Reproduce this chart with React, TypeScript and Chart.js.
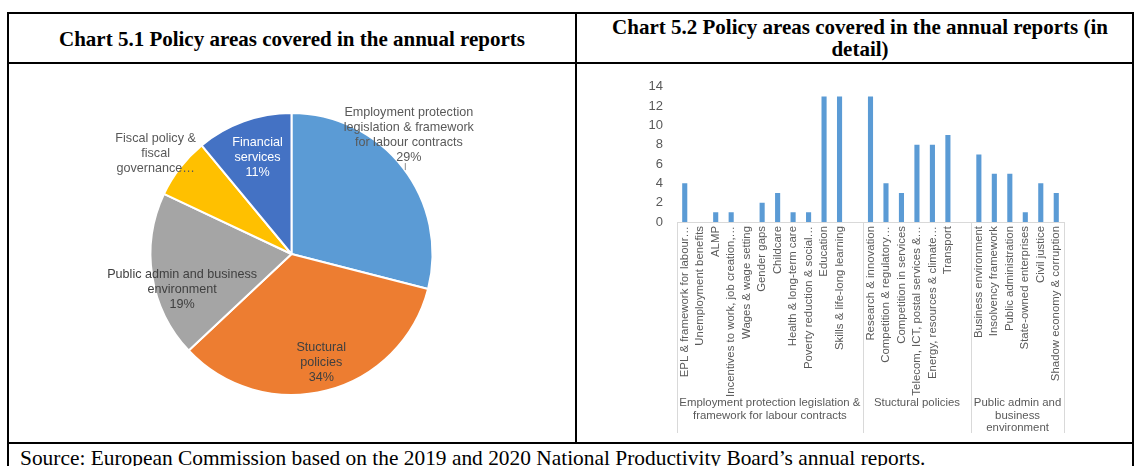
import React, { useEffect, useRef } from "react";
import { Chart, registerables } from "chart.js";

Chart.register(...registerables);

// ---------- Chart 5.1 data ----------
const pieCategories = [
  "Employment protection legislation & framework for labour contracts",
  "Stuctural policies",
  "Public admin and business environment",
  "Fiscal policy & fiscal governance",
  "Financial services",
];
const pieValues = [29, 34, 19, 7, 11];
const pieLabelNameLines = [
  ["Employment protection", "legislation & framework", "for labour contracts"],
  ["Stuctural", "policies"],
  ["Public admin and business", "environment"],
  ["Fiscal policy &", "fiscal", "governance…"],
  ["Financial", "services"],
];
const pieShowPct = [true, true, true, false, true];

// ---------- Chart 5.2 data ----------
const barCategories = [
  "EPL & framework for labour…",
  "Unemployment benefits",
  "ALMP",
  "Incentives to work, job creation,…",
  "Wages & wage setting",
  "Gender gaps",
  "Childcare",
  "Health & long-term care",
  "Poverty reduction & social…",
  "Education",
  "Skills & life-long learning",
  "",
  "Research & innovation",
  "Competition & regulatory…",
  "Competition in services",
  "Telecom, ICT, postal services &…",
  "Energy, resources & climate…",
  "Transport",
  "",
  "Business environment",
  "Insolvency framework",
  "Public administration",
  "State-owned enterprises",
  "Civil justice",
  "Shadow economy & corruption",
];
const barValues: (number | null)[] = [
  4, 0, 1, 1, 0, 2, 3, 1, 1, 13, 13, null,
  13, 4, 3, 8, 8, 9, null,
  7, 5, 5, 1, 4, 3,
];
const groupLabelLines = [
  ["Employment protection legislation &", "framework for labour contracts"],
  ["Stuctural policies"],
  ["Public admin and", "business", "environment"],
];
const groupSizes = [12, 7, 6];
const yTickMax = 14;
const yTickStep = 2;

// ---------- styles ----------
const pieColors = ["#5B9BD5", "#ED7D31", "#A5A5A5", "#FFC000", "#4472C4"];
const pieLabelColors = ["#595959", "#404040", "#404040", "#595959", "#FFFFFF"];
const pieLabelAngle = [43.9, 164.3, 253.3, 307.2, 341]; // degrees clockwise from top
const pieLabelDist = [1.2, 0.78, 0.81, 1.21, 0.74]; // fraction of radius
const pieLabelNudgeY = 2.5;
const textGray = "#595959";
const axisGray = "#D9D9D9";
const sansFont = "'Liberation Sans', Arial, sans-serif";
const serifFont = "'Liberation Serif', 'Times New Roman', serif";

const pieLabelPlugin = {
  id: "pieLabels",
  afterDatasetsDraw(chart: any) {
    const ctx = chart.ctx;
    const meta = chart.getDatasetMeta(0);
    ctx.save();
    ctx.font = `12.6px ${sansFont}`;
    ctx.textAlign = "center";
    ctx.textBaseline = "middle";
    meta.data.forEach((arc: any, i: number) => {
      const { x, y, outerRadius } = arc.getProps(["x", "y", "outerRadius"], true);
      const a = (pieLabelAngle[i] * Math.PI) / 180 - Math.PI / 2;
      const lx = x + Math.cos(a) * outerRadius * pieLabelDist[i];
      const ly = y + Math.sin(a) * outerRadius * pieLabelDist[i] + pieLabelNudgeY;
      const lines = [...pieLabelNameLines[i]];
      if (pieShowPct[i]) lines.push(`${pieValues[i]}%`);
      const lh = 15;
      const y0 = ly - ((lines.length - 1) * lh) / 2;
      ctx.fillStyle = pieLabelColors[i];
      lines.forEach((t, k) => ctx.fillText(t, lx, y0 + k * lh));
      if (pieLabelDist[i] > 1 && i === 0) {
        // leader line from label to the slice edge
        const sx = lx - 4;
        const top = y0 + (lines.length - 1) * lh + 6;
        const dx = sx - x;
        const edge = y - Math.sqrt(Math.max(outerRadius * outerRadius - dx * dx, 0));
        ctx.strokeStyle = "#8C8C8C";
        ctx.lineWidth = 1;
        ctx.beginPath();
        ctx.moveTo(sx + 0.5, top);
        ctx.lineTo(sx + 0.5, edge);
        ctx.stroke();
      }
    });
    ctx.restore();
  },
};

const groupAxisPlugin = {
  id: "groupAxis",
  afterDraw(chart: any) {
    const ctx = chart.ctx;
    const xs = chart.scales.x;
    const area = chart.chartArea;
    const n = barCategories.length;
    const cw = (xs.right - xs.left) / n;
    ctx.save();
    ctx.strokeStyle = axisGray;
    ctx.lineWidth = 1;
    let start = 0;
    const bounds: number[] = [xs.getPixelForValue(0) - cw / 2];
    groupSizes.forEach((s) => {
      start += s;
      bounds.push(xs.getPixelForValue(start - 1) + cw / 2);
    });
    bounds.forEach((bx) => {
      const px = Math.round(bx) + 0.5;
      ctx.beginPath();
      ctx.moveTo(px, area.bottom);
      ctx.lineTo(px, area.bottom + 211);
      ctx.stroke();
    });
    ctx.font = `11.4px ${sansFont}`;
    ctx.fillStyle = textGray;
    ctx.textAlign = "center";
    ctx.textBaseline = "middle";
    groupLabelLines.forEach((lines, g) => {
      const cx = (bounds[g] + bounds[g + 1]) / 2;
      lines.forEach((t, k) => ctx.fillText(t, cx, area.bottom + 181 + k * 12.5));
    });
    ctx.restore();
  },
};

export default function App() {
  const pieRef = useRef<HTMLCanvasElement>(null);
  const barRef = useRef<HTMLCanvasElement>(null);

  useEffect(() => {
    Chart.defaults.font.family = sansFont;
    const pie = new Chart(pieRef.current!, {
      type: "pie",
      data: {
        labels: pieCategories,
        datasets: [
          {
            data: pieValues,
            backgroundColor: pieColors,
            borderColor: "#FFFFFF",
            borderWidth: 2,
            radius: 141,
          } as any,
        ],
      },
      options: {
        responsive: false,
        animation: false,
        devicePixelRatio: 1,
        layout: { padding: { top: 48, bottom: 46, left: 0, right: 0 } },
        plugins: { legend: { display: false }, tooltip: { enabled: false } },
      },
      plugins: [pieLabelPlugin],
    });

    const bar = new Chart(barRef.current!, {
      type: "bar",
      data: {
        labels: barCategories,
        datasets: [
          {
            data: barValues,
            backgroundColor: "#5B9BD5",
            barPercentage: 0.33,
            categoryPercentage: 1,
          },
        ],
      },
      options: {
        responsive: false,
        animation: false,
        devicePixelRatio: 1,
        layout: { padding: { top: 18, right: 68, left: 0, bottom: 0 } },
        plugins: { legend: { display: false }, tooltip: { enabled: false } },
        scales: {
          x: {
            grid: { display: false, drawTicks: false },
            border: { display: true, color: axisGray },
            ticks: {
              autoSkip: false,
              maxRotation: 90,
              minRotation: 90,
              padding: 4,
              color: textGray,
              font: { size: 11.4 },
            },
            afterFit: (s: any) => {
              s.height = 219;
            },
          },
          y: {
            min: 0,
            max: yTickMax,
            grid: { display: false, drawTicks: false },
            border: { display: false },
            ticks: {
              stepSize: yTickStep,
              padding: 14,
              color: textGray,
              font: { size: 13 },
            },
            afterFit: (s: any) => {
              s.width = 99;
            },
          },
        },
      },
      plugins: [groupAxisPlugin],
    });

    return () => {
      pie.destroy();
      bar.destroy();
    };
  }, []);

  const line = (l: number, t: number, w: number, h: number) => (
    <div style={{ position: "absolute", left: l, top: t, width: w, height: h, background: "#000" }} />
  );

  return (
    <div
      style={{
        position: "absolute",
        left: 0,
        top: 0,
        width: 1135,
        height: 466,
        overflow: "hidden",
        background: "#fff",
      }}
    >
      {line(7, 12, 1127, 2)}
      {line(7, 12, 2, 454)}
      {line(1132, 12, 2, 454)}
      {line(7, 62, 1127, 2)}
      {line(575, 12, 2, 432)}
      {line(7, 442, 1127, 2)}
      <div
        style={{
          position: "absolute",
          left: 9,
          top: 28,
          width: 566,
          textAlign: "center",
          font: `bold 21px/22px ${serifFont}`,
          color: "#000",
        }}
      >
        Chart 5.1 Policy areas covered in the annual reports
      </div>
      <div
        style={{
          position: "absolute",
          left: 588,
          top: 16,
          width: 544,
          textAlign: "center",
          font: `bold 21px/22px ${serifFont}`,
          color: "#000",
        }}
      >
        Chart 5.2 Policy areas covered in the annual reports (in detail)
      </div>
      <canvas
        ref={pieRef}
        width={565}
        height={376}
        style={{ position: "absolute", left: 9, top: 65, width: 565, height: 376 }}
      />
      <canvas
        ref={barRef}
        width={554}
        height={376}
        style={{ position: "absolute", left: 578, top: 65, width: 554, height: 376 }}
      />
      <div
        style={{
          position: "absolute",
          left: 20,
          top: 448,
          whiteSpace: "nowrap",
          font: `21.4px/20px ${serifFont}`,
          color: "#000",
        }}
      >
        Source: European Commission based on the 2019 and 2020 National Productivity Board’s annual reports.
      </div>
    </div>
  );
}
